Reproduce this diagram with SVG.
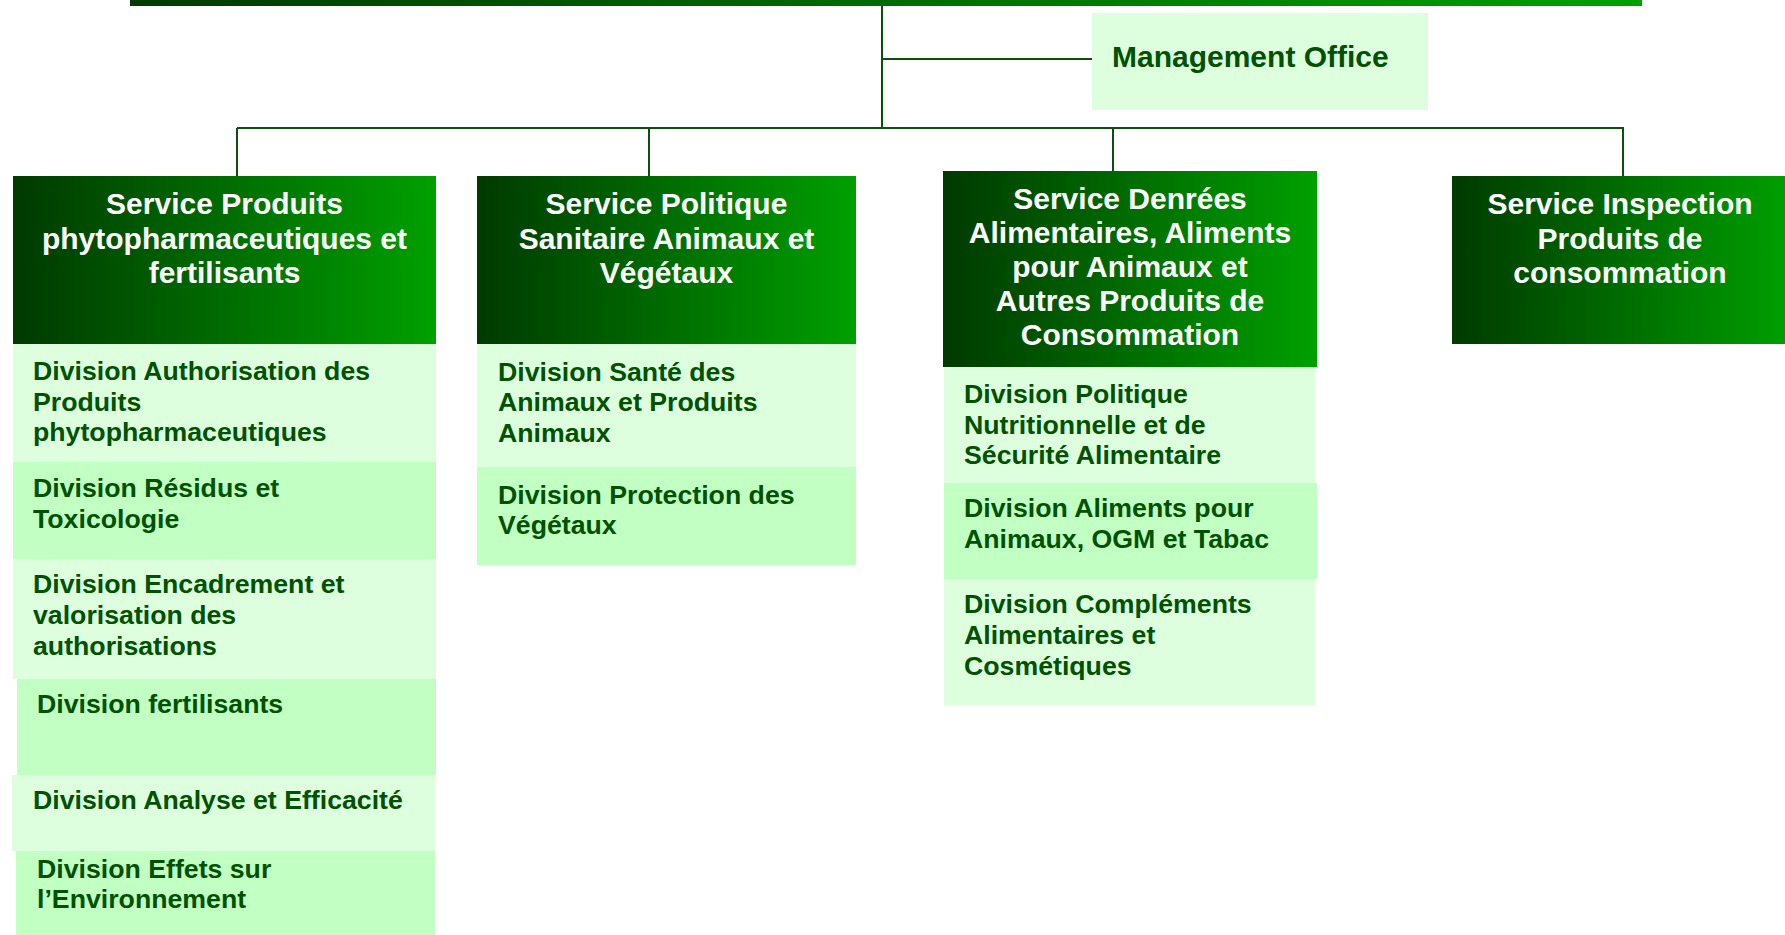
<svg xmlns="http://www.w3.org/2000/svg" width="1785" height="935" viewBox="0 0 1785 935">
<defs>
<linearGradient id="hg" x1="0" y1="0" x2="1" y2="0">
<stop offset="0" stop-color="#003a00"/>
<stop offset="0.5" stop-color="#006c00"/>
<stop offset="1" stop-color="#00a000"/>
</linearGradient>
<style>
.hdr{fill:url(#hg)}
.ht{fill:#ffffff;font-family:"Liberation Sans",Arial,sans-serif;font-weight:bold;font-size:30px;text-anchor:middle}
.lt{fill:#ddffdd}
.dk{fill:#c2ffc2}
.dt{fill:#005200;font-family:"Liberation Sans",Arial,sans-serif;font-weight:bold;font-size:26.7px}
.ln{stroke:#0d4f0d;stroke-width:2;fill:none}
</style>
</defs>
<rect width="1785" height="935" fill="#ffffff"/>
<rect x="130" y="0" width="1512" height="6" fill="url(#hg)"/>
<g id="connectors">
<path class="ln" d="M882 6 V128"/>
<path class="ln" d="M882 59 H1092"/>
<path class="ln" d="M237 128 H1624"/>
<path class="ln" d="M237 128 V176"/>
<path class="ln" d="M649 128 V176"/>
<path class="ln" d="M1113 128 V171"/>
<path class="ln" d="M1623 128 V176"/>
</g>
<g id="management-office">
<rect x="1092" y="13" width="336" height="97" class="lt"/>
<text x="1112" y="67" class="dt" style="font-size:30px">Management Office</text>
</g>
<g id="service-1">
<rect x="13" y="176" width="423" height="168" class="hdr"/>
<text class="ht"><tspan x="224.5" y="214">Service Produits</tspan><tspan x="224.5" y="248.5">phytopharmaceutiques et</tspan><tspan x="224.5" y="283">fertilisants</tspan></text>
</g>
<g id="div-1-1">
<rect x="13" y="344" width="423" height="118" class="lt"/>
<text class="dt"><tspan x="33" y="380">Division Authorisation des</tspan><tspan x="33" y="410.7">Produits</tspan><tspan x="33" y="441">phytopharmaceutiques</tspan></text>
</g>
<g id="div-1-2">
<rect x="13" y="462" width="423" height="97" class="dk"/>
<text class="dt"><tspan x="33" y="497">Division Résidus et</tspan><tspan x="33" y="528">Toxicologie</tspan></text>
</g>
<g id="div-1-3">
<rect x="13" y="559" width="423" height="120" class="lt"/>
<text class="dt"><tspan x="33" y="593">Division Encadrement et</tspan><tspan x="33" y="624">valorisation des</tspan><tspan x="33" y="655">authorisations</tspan></text>
</g>
<g id="div-1-4">
<rect x="17" y="679" width="419" height="96" class="dk"/>
<text class="dt" x="37" y="713">Division fertilisants</text>
</g>
<g id="div-1-5">
<rect x="12" y="775" width="423" height="76" class="lt"/>
<text class="dt" x="33" y="809">Division Analyse et Efficacité</text>
</g>
<g id="div-1-6">
<rect x="16" y="851" width="419" height="84" class="dk"/>
<text class="dt"><tspan x="37" y="878">Division Effets sur</tspan><tspan x="37" y="908">l’Environnement</tspan></text>
</g>
<g id="service-2">
<rect x="477" y="176" width="379" height="168" class="hdr"/>
<text class="ht"><tspan x="666.5" y="214">Service Politique</tspan><tspan x="666.5" y="248.5">Sanitaire Animaux et</tspan><tspan x="666.5" y="283">Végétaux</tspan></text>
</g>
<g id="div-2-1">
<rect x="477" y="344" width="379" height="123" class="lt"/>
<text class="dt"><tspan x="498" y="380.5">Division Santé des</tspan><tspan x="498" y="411">Animaux et Produits</tspan><tspan x="498" y="441.5">Animaux</tspan></text>
</g>
<g id="div-2-2">
<rect x="477" y="467" width="379" height="98" class="dk"/>
<text class="dt"><tspan x="498" y="504">Division Protection des</tspan><tspan x="498" y="534">Végétaux</tspan></text>
</g>
<g id="service-3">
<rect x="943" y="171" width="374" height="196" class="hdr"/>
<text class="ht"><tspan x="1130" y="209">Service Denrées</tspan><tspan x="1130" y="243">Alimentaires, Aliments</tspan><tspan x="1130" y="277">pour Animaux et</tspan><tspan x="1130" y="311">Autres Produits de</tspan><tspan x="1130" y="345">Consommation</tspan></text>
</g>
<g id="div-3-1">
<rect x="944" y="367" width="371" height="116" class="lt"/>
<text class="dt"><tspan x="964" y="402.7">Division Politique</tspan><tspan x="964" y="433.5">Nutritionnelle et de</tspan><tspan x="964" y="464.3">Sécurité Alimentaire</tspan></text>
</g>
<g id="div-3-2">
<rect x="944" y="483" width="373" height="96" class="dk"/>
<text class="dt"><tspan x="964" y="517">Division Aliments pour</tspan><tspan x="964" y="548">Animaux, OGM et Tabac</tspan></text>
</g>
<g id="div-3-3">
<rect x="944" y="579" width="371" height="126" class="lt"/>
<text class="dt"><tspan x="964" y="613.3">Division Compléments</tspan><tspan x="964" y="644.3">Alimentaires et</tspan><tspan x="964" y="675">Cosmétiques</tspan></text>
</g>
<g id="service-4">
<rect x="1452" y="176" width="340" height="168" class="hdr"/>
<text class="ht"><tspan x="1620" y="214">Service Inspection</tspan><tspan x="1620" y="248.5">Produits de</tspan><tspan x="1620" y="283">consommation</tspan></text>
</g>
</svg>
